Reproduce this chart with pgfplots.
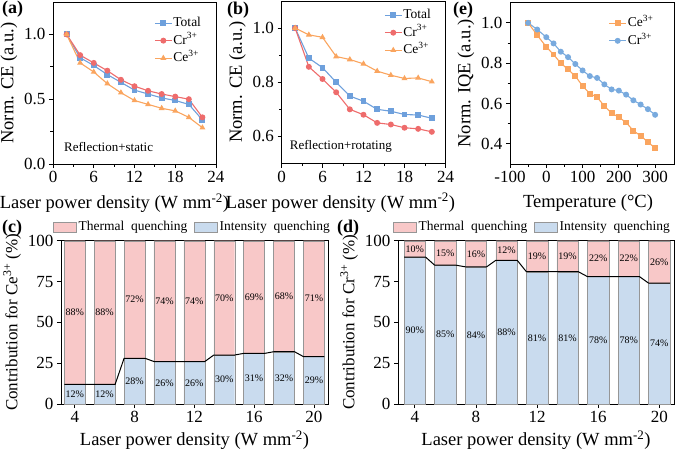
\documentclass[border=0pt]{standalone}
\usepackage{fontspec}
\setmainfont{Liberation Serif}
\usepackage{pgfplots}
\pgfplotsset{compat=1.18}

\definecolor{cTotal}{RGB}{110,160,220}
\definecolor{cCr}{RGB}{238,108,108}
\definecolor{cCe}{RGB}{250,165,95}
\definecolor{cCrE}{RGB}{120,170,222}
\definecolor{cPink}{RGB}{248,200,200}
\definecolor{cBlue}{RGB}{201,219,238}
\definecolor{cEdge}{RGB}{150,150,150}

\newcommand{\tickfont}{\fontsize{17}{20}\selectfont}
\newcommand{\labfont}{\fontsize{18.5}{22}\selectfont}
\newcommand{\ylabfont}{\fontsize{17}{20}\selectfont}
\newcommand{\legfont}{\fontsize{13.5}{16}\selectfont}
\newcommand{\annfont}{\fontsize{13}{15}\selectfont}
\newcommand{\barfont}{\fontsize{10}{12}\selectfont}
\newcommand{\panfont}{\fontsize{18}{21}\selectfont\bfseries}
\newcommand{\bl}[3]{\node[font=\barfont] at (axis cs:#1,#2) {#3\%};}

\pgfplotsset{
  base/.style={
    scale only axis,
    anchor=south west,
    axis line style={line width=0.9pt},
    tick align=outside,
    tick pos=left,
    major tick length=4pt,
    minor tick length=2.5pt,
    tick style={black, line width=0.8pt},
    tick label style={font=\tickfont},
    label style={font=\labfont},
    /pgf/number format/assume math mode=true,
    legend cell align=left,
  },
  lineplot/.style={line width=1.1pt, mark size=2.4pt, mark options={solid}},
  lineleg/.style={draw=none, fill=none, font=\legfont, inner sep=0pt, row sep=2.5pt,
    nodes={inner sep=1pt, text height=10pt, text depth=3pt}},
  barax/.style={
    base, width=#1, height=163.3pt, ymin=0, ymax=100,
    xtick={4,8,12,16,20}, ytick={0,25,50,75,100},
    ybar stacked, bar width=1.4,
    xlabel={Laser power density (W mm\textsuperscript{-2})},
    xlabel style={yshift=-1pt},
    ylabel style={font=\ylabfont},
  },
  overax/.style={
    scale only axis, anchor=south west, height=163.3pt, ymin=0, ymax=100, hide axis,
    legend columns=2,
    legend image code/.code={\draw[##1, draw=cEdge] (0pt,-5pt) rectangle (23pt,5pt);},
    legend style={draw=none, fill=none, font=\legfont, inner sep=0pt, anchor=west,
      /tikz/every even column/.append style={column sep=5pt}},
  },
}

\begin{document}
\begin{tikzpicture}
\useasboundingbox (0,0) rectangle (677pt,451pt);

% ---------------- (a)
\begin{axis}[base, at={(53pt,287pt)}, width=163pt, height=162pt,
  xmin=0, xmax=24, ymin=0, ymax=1.25,
  xtick={0,6,12,18,24}, ytick={0,0.5,1.0},
  minor x tick num=1, minor y tick num=1,
  yticklabel style={/pgf/number format/.cd, fixed, fixed zerofill, precision=1},
  xlabel={Laser power density (W mm\textsuperscript{-2})},
  xlabel style={yshift=-4pt, xshift=-20pt},
  ylabel={Norm. CE (a.u.)},
  legend style={lineleg, at={(rel axis cs:0.62,0.917)}, anchor=north west}]
\addplot[color=cTotal, lineplot, mark=square*] coordinates {
 (2,1.00)(4,0.82)(6,0.76)(8,0.69)(10,0.63)(12,0.57)(14,0.54)(16,0.51)(18,0.49)(20,0.46)(22,0.34)};
\addlegendentry{Total}
\addplot[color=cCr, lineplot, mark=*] coordinates {
 (2,1.00)(4,0.84)(6,0.78)(8,0.72)(10,0.65)(12,0.60)(14,0.565)(16,0.54)(18,0.52)(20,0.50)(22,0.36)};
\addlegendentry{Cr\textsuperscript{3+}}
\addplot[color=cCe, lineplot, mark=triangle*] coordinates {
 (2,1.00)(4,0.78)(6,0.71)(8,0.62)(10,0.55)(12,0.49)(14,0.46)(16,0.43)(18,0.41)(20,0.36)(22,0.28)};
\addlegendentry{Ce\textsuperscript{3+}}
\node[anchor=west, inner sep=0pt, font=\annfont] at (rel axis cs:0.067,0.105) {Reflection+static};
\end{axis}

% ---------------- (b)
\begin{axis}[base, at={(281.5pt,287.5pt)}, width=164pt, height=162.5pt,
  xmin=0, xmax=24, ymin=0.5, ymax=1.1,
  xtick={0,6,12,18,24}, ytick={0.6,0.8,1.0},
  minor x tick num=1, minor y tick num=1,
  yticklabel style={/pgf/number format/.cd, fixed, fixed zerofill, precision=1},
  xlabel={Laser power density (W mm\textsuperscript{-2})},
  xlabel style={yshift=-4pt, xshift=-23pt},
  ylabel={Norm. CE (a.u.)},
  legend style={lineleg, at={(rel axis cs:0.625,0.96)}, anchor=north west}]
\addplot[color=cTotal, lineplot, mark=square*] coordinates {
 (2,1.00)(4,0.889)(6,0.854)(8,0.80)(10,0.749)(12,0.73)(14,0.70)(16,0.693)(18,0.681)(20,0.679)(22,0.667)};
\addlegendentry{Total}
\addplot[color=cCr, lineplot, mark=*] coordinates {
 (2,1.00)(4,0.857)(6,0.812)(8,0.763)(10,0.70)(12,0.68)(14,0.65)(16,0.644)(18,0.632)(20,0.628)(22,0.617)};
\addlegendentry{Cr\textsuperscript{3+}}
\addplot[color=cCe, lineplot, mark=triangle*] coordinates {
 (2,1.00)(4,0.975)(6,0.966)(8,0.895)(10,0.884)(12,0.868)(14,0.841)(16,0.826)(18,0.814)(20,0.816)(22,0.802)};
\addlegendentry{Ce\textsuperscript{3+}}
\node[anchor=west, inner sep=0pt, font=\annfont] at (rel axis cs:0.05,0.105) {Reflection+rotating};
\end{axis}

% ---------------- (e)
\begin{axis}[base, at={(510pt,287pt)}, width=164pt, height=161.3pt,
  xmin=-100, xmax=352, ymin=0.3, ymax=1.1,
  xtick={-100,0,100,200,300}, ytick={0.4,0.6,0.8,1.0},
  minor x tick num=1, minor y tick num=1,
  yticklabel style={/pgf/number format/.cd, fixed, fixed zerofill, precision=1},
  xlabel={Temperature (°C)},
  xlabel style={yshift=-5pt, xshift=-4pt},
  ylabel={Norm. IQE (a.u.)},
  legend style={lineleg, at={(rel axis cs:0.60,0.92)}, anchor=north west}]
\addplot[color=cCe, lineplot, mark=square*] coordinates {
 (-50,1.00)(-25,0.939)(0,0.881)(20,0.843)(40,0.80)(60,0.769)(80,0.736)(100,0.687)(120,0.649)
 (140,0.631)(160,0.588)(180,0.552)(200,0.532)(220,0.506)(240,0.465)(260,0.44)(280,0.409)(300,0.379)};
\addlegendentry{Ce\textsuperscript{3+}}
\addplot[color=cCrE, lineplot, mark=*] coordinates {
 (-50,1.00)(-25,0.967)(0,0.929)(20,0.898)(40,0.857)(60,0.83)(80,0.796)(100,0.764)(120,0.736)
 (140,0.727)(160,0.695)(180,0.67)(200,0.664)(220,0.644)(240,0.616)(260,0.595)(280,0.572)(300,0.544)};
\addlegendentry{Cr\textsuperscript{3+}}
\end{axis}

% ---------------- (c)
\begin{axis}[barax=267pt, at={(61pt,47pt)}, xmin=3.08, xmax=20.94,
  ylabel={Contribution for Ce\textsuperscript{3+} (\%)}]
\addplot[fill=cBlue, draw=cEdge] coordinates {
 (4,12)(6,12)(8,28)(10,26)(12,26)(14,30)(16,31)(18,32)(20,29)};
\addplot[fill=cPink, draw=cEdge] coordinates {
 (4,88)(6,88)(8,72)(10,74)(12,74)(14,70)(16,69)(18,68)(20,71)};
\end{axis}
\begin{axis}[overax, at={(61pt,47pt)}, width=267pt, xmin=3.08, xmax=20.94,
  legend style={at={(rel axis cs:-0.03,1.084)}}]
\addlegendimage{fill=cPink}\addlegendentry{Thermal\ \ quenching}
\addlegendimage{fill=cBlue}\addlegendentry{Intensity\ \ quenching}
\addplot[black, line width=1pt, forget plot] coordinates {
 (3.3,12)(4.7,12)(5.3,12)(6.7,12)(7.3,28)(8.7,28)(9.3,26)(10.7,26)(11.3,26)(12.7,26)
 (13.3,30)(14.7,30)(15.3,31)(16.7,31)(17.3,32)(18.7,32)(19.3,29)(20.7,29)};
\bl{4}{56}{88} \bl{4}{6}{12}
\bl{6}{56}{88} \bl{6}{6}{12}
\bl{8}{64}{72} \bl{8}{14}{28}
\bl{10}{63}{74} \bl{10}{13}{26}
\bl{12}{63}{74} \bl{12}{13}{26}
\bl{14}{65}{70} \bl{14}{15}{30}
\bl{16}{65.5}{69} \bl{16}{15.5}{31}
\bl{18}{66}{68} \bl{18}{16}{32}
\bl{20}{64.5}{71} \bl{20}{14.5}{29}
\end{axis}

% ---------------- (d)
\begin{axis}[barax=276pt, at={(398pt,47pt)}, xmin=2.9, xmax=20.96,
  ylabel={Contribution for Cr\textsuperscript{3+} (\%)}]
\addplot[fill=cBlue, draw=cEdge] coordinates {
 (4,90)(6,85)(8,84)(10,88)(12,81)(14,81)(16,78)(18,78)(20,74)};
\addplot[fill=cPink, draw=cEdge] coordinates {
 (4,10)(6,15)(8,16)(10,12)(12,19)(14,19)(16,22)(18,22)(20,26)};
\end{axis}
\begin{axis}[overax, at={(398pt,47pt)}, width=276pt, xmin=2.9, xmax=20.96,
  legend style={at={(rel axis cs:-0.018,1.084)}}]
\addlegendimage{fill=cPink}\addlegendentry{Thermal\ \ quenching}
\addlegendimage{fill=cBlue}\addlegendentry{Intensity\ \ quenching}
\addplot[black, line width=1pt, forget plot] coordinates {
 (3.3,90)(4.7,90)(5.3,85)(6.7,85)(7.3,84)(8.7,84)(9.3,88)(10.7,88)(11.3,81)(12.7,81)
 (13.3,81)(14.7,81)(15.3,78)(16.7,78)(17.3,78)(18.7,78)(19.3,74)(20.7,74)};
\bl{4}{95}{10} \bl{4}{45}{90}
\bl{6}{92.5}{15} \bl{6}{42.5}{85}
\bl{8}{92}{16} \bl{8}{42}{84}
\bl{10}{94}{12} \bl{10}{44}{88}
\bl{12}{90.5}{19} \bl{12}{40.5}{81}
\bl{14}{90.5}{19} \bl{14}{40.5}{81}
\bl{16}{89}{22} \bl{16}{39}{78}
\bl{18}{89}{22} \bl{18}{39}{78}
\bl{20}{87}{26} \bl{20}{37}{74}
\end{axis}

% panel labels
\node[anchor=west, inner sep=0pt, font=\panfont] at (2pt,442pt) {(a)};
\node[anchor=west, inner sep=0pt, font=\panfont] at (227pt,441pt) {(b)};
\node[anchor=west, inner sep=0pt, font=\panfont] at (453pt,441pt) {(e)};
\node[anchor=west, inner sep=0pt, font=\panfont] at (2pt,223pt) {(c)};
\node[anchor=west, inner sep=0pt, font=\panfont] at (337pt,223pt) {(d)};
\end{tikzpicture}
\end{document}
